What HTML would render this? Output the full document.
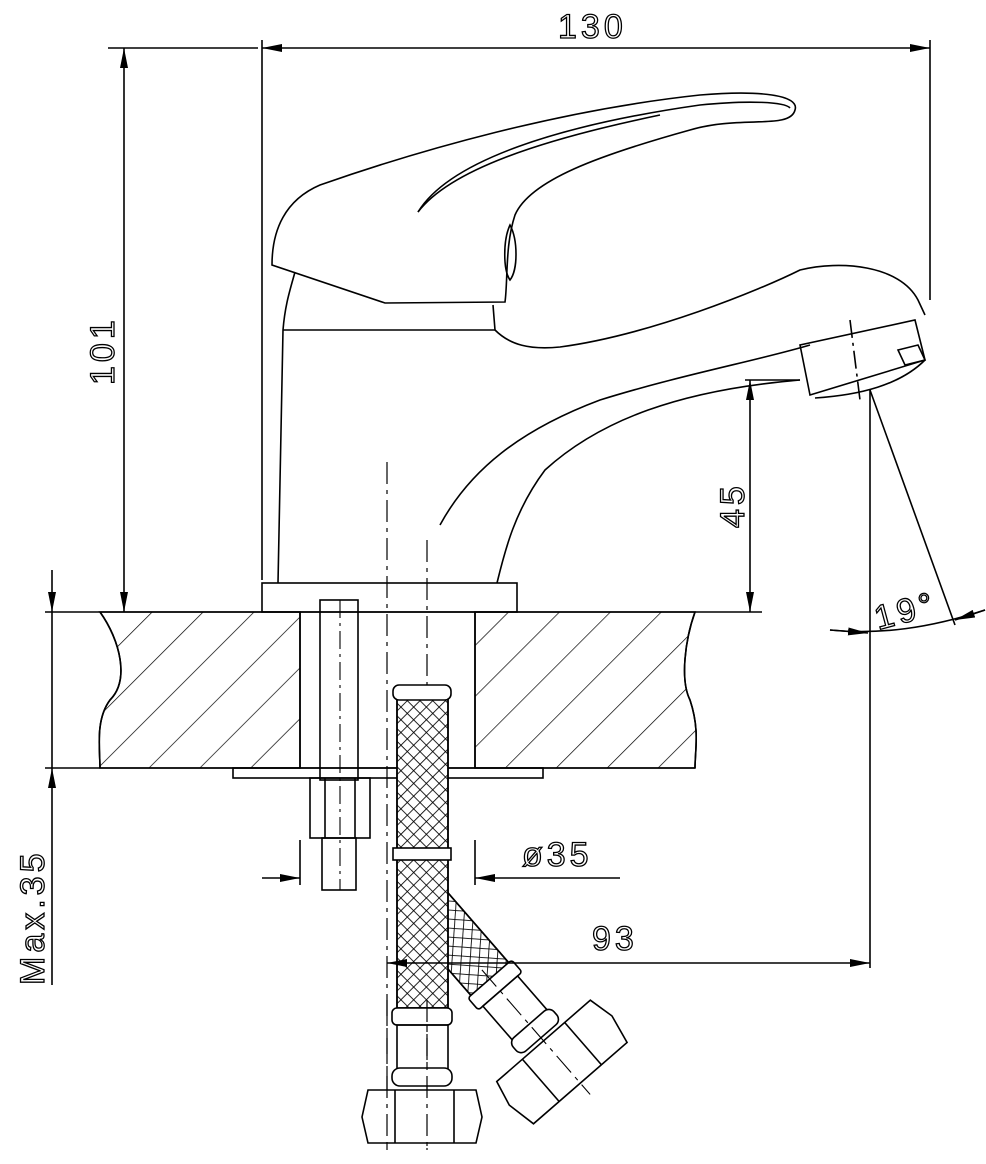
<!DOCTYPE html>
<html><head><meta charset="utf-8"><style>
html,body{margin:0;padding:0;background:#fff;}
svg{display:block}
text{font-family:"Liberation Sans",sans-serif;font-size:34px;fill:none;stroke:#000;stroke-width:1.3;letter-spacing:4px}
</style></head><body>
<svg width="986" height="1164" viewBox="0 0 986 1164" xmlns="http://www.w3.org/2000/svg" fill="none" stroke="#000" stroke-width="1.6">
<defs>
<pattern id="h" width="36" height="36" patternUnits="userSpaceOnUse" patternTransform="rotate(45)">
<line x1="0" y1="0" x2="0" y2="36" stroke="#000" stroke-width="1.4"/>
</pattern>
<pattern id="m" width="9" height="9" patternUnits="userSpaceOnUse" patternTransform="rotate(45)">
<line x1="0" y1="0" x2="0" y2="9" stroke="#000" stroke-width="1.7"/>
<line x1="0" y1="0" x2="9" y2="0" stroke="#000" stroke-width="1.7"/>
</pattern>
<marker id="a" viewBox="0 0 20 8" refX="20" refY="4" markerWidth="20" markerHeight="8" orient="auto-start-reverse" markerUnits="userSpaceOnUse">
<path d="M0,0 L20,4 L0,8 z" fill="#000" stroke="none"/></marker>
</defs>

<path d="M100,612 C120,640 130,680 110,700 C95,720 100,750 100,768 L300,768 L300,612 Z" fill="url(#h)"/>
<path d="M475,612 L695,612 C685,640 680,680 690,700 C700,730 695,750 695,768 L475,768 Z" fill="url(#h)"/>
<path d="M100,612 C120,640 130,680 110,700 C95,720 100,750 100,768"/>
<path d="M695,612 C685,640 680,680 690,700 C700,730 695,750 695,768"/>
<line x1="45" y1="612" x2="762" y2="612"/>
<line x1="45" y1="768" x2="695" y2="768"/>
<line x1="300" y1="612" x2="300" y2="768"/>
<line x1="475" y1="612" x2="475" y2="768"/>
<rect x="233" y="768" width="310" height="10"/>

<line x1="262" y1="48" x2="930" y2="48" marker-start="url(#a)" marker-end="url(#a)"/>
<line x1="262" y1="40" x2="262" y2="580"/>
<line x1="930" y1="40" x2="930" y2="300"/>
<text x="558" y="38">130</text>
<line x1="108" y1="48" x2="258" y2="48"/>
<line x1="124" y1="48" x2="124" y2="612" marker-start="url(#a)" marker-end="url(#a)"/>
<text transform="translate(114,385) rotate(-90)">101</text>
<line x1="750" y1="380" x2="750" y2="612" marker-start="url(#a)" marker-end="url(#a)"/>
<line x1="745" y1="380" x2="800" y2="380"/>
<text transform="translate(744,528) rotate(-90)">45</text>
<line x1="52" y1="570" x2="52" y2="612" marker-end="url(#a)"/>
<line x1="52" y1="768" x2="52" y2="985" marker-start="url(#a)"/>
<line x1="52" y1="612" x2="52" y2="768"/>
<text transform="translate(44,985) rotate(-90)">Max.35</text>

<rect x="262" y="583" width="255" height="29"/>
<path d="M278,583 L283,330 C285,305 290,290 295,272"/>
<path d="M283,330 L495,330 L493,305"/>
<path d="M497,583 C505,550 515,510 545,470 C600,420 680,390 800,380"/>
<path d="M440,525 C470,470 520,430 600,400 C680,375 760,360 810,345"/>
<path d="M495,330 C510,345 530,350 560,347 C650,335 760,290 800,270 C840,260 900,265 918,300 L925,315"/>
<path d="M800,345 L810,395 L925,360 L915,320 Z"/>
<path d="M815,398 C860,395 900,385 925,360"/>
<path d="M898,350 L918,345 L925,360 L905,365 Z"/>
<line x1="850" y1="320" x2="860" y2="400" stroke-dasharray="18,5,3,5"/>
<path d="M272,265 C272,230 285,200 320,185 C420,150 560,110 700,95 C760,90 800,95 795,110 C790,130 740,115 690,130 C600,155 530,180 515,215 C505,245 508,280 505,302 L385,303 Z"/>
<path d="M418,212 C450,160 560,125 700,105 C750,100 785,102 790,108"/>
<path d="M418,212 C450,170 540,140 660,115"/>
<path d="M510,225 C518,240 518,270 510,280 C503,270 503,240 510,225 Z"/>

<line x1="387" y1="462" x2="387" y2="1150" stroke-dasharray="22,6,4,6" stroke-width="1.2"/>
<line x1="427" y1="540" x2="427" y2="1150" stroke-dasharray="22,6,4,6" stroke-width="1.2"/>
<rect x="320" y="600" width="38" height="180"/>
<line x1="340" y1="600" x2="340" y2="890" stroke-dasharray="18,5,3,5" stroke-width="1.1"/>
<rect x="310" y="778" width="60" height="60"/>
<line x1="325" y1="778" x2="325" y2="838"/><line x1="355" y1="778" x2="355" y2="838"/>
<rect x="322" y="838" width="34" height="52"/>

<g transform="translate(495,985) rotate(-41)">
<rect x="-25" y="-115" width="50" height="108" fill="#fff"/>
<rect x="-25" y="-115" width="50" height="108" fill="url(#m)"/>
<rect x="-29" y="-8" width="58" height="16" rx="3" fill="#fff"/>
<rect x="-23" y="8" width="46" height="48" fill="#fff"/>
<rect x="-27" y="52" width="54" height="18" rx="7" fill="#fff"/>
<path d="M-62,74 L62,74 L68,100 L62,130 L-62,130 L-68,100 Z" fill="#fff"/>
<line x1="-28" y1="74" x2="-28" y2="130"/><line x1="28" y1="74" x2="28" y2="130"/>
<line x1="0" y1="-20" x2="0" y2="145" stroke-dasharray="22,6,4,6" stroke-width="1.1"/>
</g>
<rect x="397" y="690" width="51" height="318" fill="#fff"/>
<rect x="397" y="690" width="51" height="318" fill="url(#m)"/>
<rect x="393" y="685" width="58" height="15" rx="6" fill="#fff"/>
<rect x="393" y="848" width="58" height="12" fill="#fff"/>
<rect x="392" y="1008" width="60" height="17" rx="5" fill="#fff"/>
<rect x="397" y="1025" width="51" height="45"/>
<rect x="392" y="1068" width="60" height="18" rx="8" fill="#fff"/>
<path d="M368,1090 L476,1090 L482,1117 L476,1143 L368,1143 L362,1117 Z" fill="#fff"/>
<line x1="395" y1="1090" x2="395" y2="1143"/><line x1="454" y1="1090" x2="454" y2="1143"/>
<line x1="427" y1="1000" x2="427" y2="1150" stroke-dasharray="22,6,4,6" stroke-width="1.2"/>
<line x1="387" y1="1000" x2="387" y2="1150" stroke-dasharray="22,6,4,6" stroke-width="1.2"/>

<line x1="262" y1="878" x2="300" y2="878" marker-end="url(#a)"/>
<line x1="475" y1="878" x2="620" y2="878" marker-start="url(#a)"/>
<line x1="300" y1="840" x2="300" y2="885"/>
<line x1="475" y1="840" x2="475" y2="885"/>
<text x="522" y="866">ø35</text>
<line x1="387" y1="963" x2="870" y2="963" marker-start="url(#a)" marker-end="url(#a)"/>
<line x1="870" y1="390" x2="870" y2="968"/>
<text x="592" y="950">93</text>
<line x1="870" y1="390" x2="955" y2="625"/>
<path d="M830,630 C880,635 930,628 985,610"/>
<line x1="830" y1="630" x2="868" y2="633" marker-end="url(#a)"/>
<line x1="985" y1="610" x2="955" y2="620" marker-end="url(#a)"/>
<text transform="translate(878,630) rotate(-15)">19°</text>
</svg>
</body></html>
